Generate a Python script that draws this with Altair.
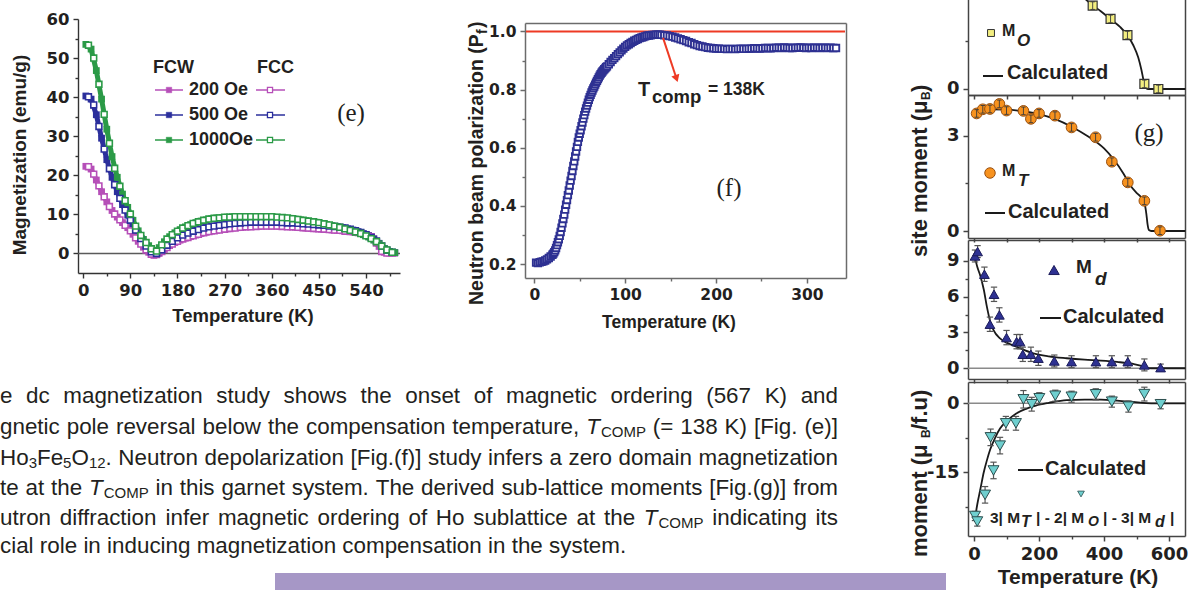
import altair as alt
import pandas as pd

SANS = "Liberation Sans"
DEJA = "DejaVu Sans"
SERIF = "Liberation Serif"
INK = "#231f20"

# ---------------- panel (e): dc magnetization ----------------
E_SERIES = ["200 Oe", "500 Oe", "1000Oe"]
E_COLORS = ["#b64fb8", "#2b2f9c", "#2b9a47"]
E_T_FCW = [5, 15, 25, 35, 45, 55, 65, 75, 85, 95, 105, 115, 125, 135, 145, 155, 165, 175, 185, 195,
           205, 215, 225, 235, 245, 255, 265, 275, 285, 295, 305, 315, 325, 335, 345, 355, 365, 375, 385, 395,
           405, 415, 425, 435, 445, 455, 465, 475, 485, 495, 505, 515, 525, 535, 545, 555, 565, 575, 585, 595]
FCW_200 = [22.3, 21.6, 18.8, 15.8, 13.2, 11.0, 9.3, 7.9, 6.6, 4.9, 3.1, 1.6, 0.3, -0.5, 0.0, 1.0, 2.0, 2.8, 3.4, 3.9,
           4.3, 4.7, 5.1, 5.4, 5.7, 5.9, 6.1, 6.3, 6.5, 6.6, 6.7, 6.8, 6.9, 6.9, 7.0, 7.0, 7.0, 6.9, 6.9, 6.8,
           6.7, 6.6, 6.5, 6.4, 6.3, 6.2, 6.1, 6.0, 5.9, 5.8, 5.7, 5.5, 5.3, 5.0, 4.6, 3.8, 1.8, 0.3, 0.1, 0.1]
FCW_500 = [40.3, 39.5, 35.5, 29.5, 24.0, 19.5, 15.8, 12.5, 9.8, 7.2, 4.9, 2.8, 1.0, 0.1, 0.4, 1.6, 2.7, 3.6, 4.4, 5.0,
           5.5, 5.9, 6.3, 6.6, 6.9, 7.1, 7.3, 7.5, 7.7, 7.8, 7.9, 8.0, 8.0, 8.0, 8.0, 8.0, 8.0, 7.9, 7.9, 7.8,
           7.7, 7.6, 7.5, 7.4, 7.3, 7.2, 7.1, 7.0, 6.8, 6.6, 6.3, 6.0, 5.6, 5.1, 4.5, 3.7, 2.6, 1.3, 0.5, 0.2]
FCW_1000 = [53.5, 52.3, 46.8, 39.5, 31.8, 24.8, 19.5, 15.2, 11.8, 8.5, 5.8, 3.6, 2.0, 0.6, 1.5, 3.0, 4.3, 5.3, 6.1, 6.8,
            7.4, 7.9, 8.3, 8.6, 8.9, 9.1, 9.2, 9.3, 9.4, 9.4, 9.4, 9.4, 9.4, 9.4, 9.4, 9.4, 9.3, 9.2, 9.1, 9.0,
            8.8, 8.6, 8.4, 8.2, 8.0, 7.7, 7.4, 7.1, 6.8, 6.5, 6.1, 5.7, 5.3, 4.8, 4.2, 3.4, 2.5, 1.3, 0.5, 0.2]
E_T_FCC = [10, 20, 30, 40, 50, 60, 70, 80, 90, 100, 110, 120, 130, 140, 150, 160, 170, 180, 190, 200,
           210, 220, 230, 240, 250, 260, 270, 280, 290, 300, 310, 320, 330, 340, 350, 360, 370, 380, 390, 400,
           410, 420, 430, 440, 450, 460, 470, 480, 490, 500, 510, 520, 530, 540, 550, 560, 570, 580, 590]
FCC_200 = [22.2, 20.3, 17.3, 14.5, 12.0, 10.1, 8.6, 7.2, 5.8, 4.0, 2.4, 0.9, -0.2, -0.3, 0.5, 1.5, 2.4, 3.1, 3.7, 4.1,
           4.5, 4.9, 5.3, 5.6, 5.8, 6.0, 6.2, 6.4, 6.5, 6.7, 6.8, 6.8, 6.9, 7.0, 7.0, 7.0, 7.0, 6.9, 6.8, 6.8,
           6.7, 6.6, 6.5, 6.4, 6.3, 6.2, 6.1, 6.0, 5.9, 5.7, 5.6, 5.4, 5.2, 4.8, 4.3, 2.7, 0.5, 0.1, 0.1]
FCC_500 = [40.1, 38.0, 32.5, 26.7, 21.7, 17.6, 14.1, 11.1, 8.5, 6.0, 3.8, 1.9, 0.4, 0.0, 0.9, 2.1, 3.1, 4.0, 4.7, 5.2,
           5.7, 6.1, 6.5, 6.8, 7.0, 7.2, 7.4, 7.6, 7.7, 7.8, 7.9, 8.0, 8.0, 8.0, 8.0, 8.0, 8.0, 7.9, 7.8, 7.8,
           7.7, 7.6, 7.5, 7.4, 7.3, 7.2, 7.0, 6.9, 6.7, 6.5, 6.2, 5.8, 5.4, 4.8, 4.1, 3.2, 1.9, 0.8, 0.3]
FCC_1000 = [53.3, 50.0, 43.3, 35.6, 28.2, 21.8, 17.2, 13.5, 10.1, 7.0, 4.6, 2.8, 1.2, 0.6, 2.2, 3.7, 4.8, 5.7, 6.5, 7.1,
            7.7, 8.1, 8.5, 8.8, 9.0, 9.1, 9.3, 9.3, 9.4, 9.4, 9.4, 9.4, 9.4, 9.4, 9.4, 9.4, 9.3, 9.2, 9.1, 8.9,
            8.7, 8.5, 8.3, 8.1, 7.9, 7.6, 7.3, 7.0, 6.7, 6.3, 5.9, 5.5, 5.1, 4.5, 3.8, 3.0, 1.9, 0.9, 0.3]
E_XTICKS = [0, 90, 180, 270, 360, 450, 540]
E_YTICKS = [0, 10, 20, 30, 40, 50, 60]

# ---------------- panel (f): neutron depolarization ----------------
F_T = [2, 4, 6, 8, 10, 12, 14, 16, 18, 20,
       21, 22, 23, 24, 25, 26, 27, 28, 29, 30, 31, 32, 33, 34, 35, 36, 37, 38, 39, 40,
       41, 42, 43, 44, 45, 46, 47, 48, 49, 50, 51, 52, 53, 54, 55, 56, 57, 58, 59, 60,
       61, 62, 63, 64, 65, 66, 67, 68, 69, 70, 71, 72, 73, 74, 75, 76, 77, 78, 79, 80,
       82, 84, 86, 88, 90, 92, 94, 96, 98, 100, 102, 104, 106, 108, 110, 112, 114, 116, 118, 120,
       122, 124, 126, 128, 130, 132, 134, 136, 138, 140,
       143, 146, 149, 152, 155, 158, 161, 164, 167, 170, 173, 176, 179, 182, 185, 188, 191, 194, 197, 200,
       203, 206, 209, 212, 215, 218, 221, 224, 227, 230, 233, 236, 239, 242, 245, 248, 251, 254, 257, 260,
       263, 266, 269, 272, 275, 278, 281, 284, 287, 290, 293, 296, 299, 302, 305, 308, 311, 314, 317, 320,
       323, 326, 329, 332]
F_P = [0.205, 0.203, 0.206, 0.208, 0.209, 0.212, 0.216, 0.221, 0.226, 0.232,
       0.236, 0.241, 0.247, 0.255, 0.265, 0.275, 0.285, 0.297, 0.310, 0.325, 0.340, 0.355, 0.370, 0.387, 0.404,
       0.420, 0.437, 0.453, 0.470, 0.487,
       0.503, 0.520, 0.537, 0.553, 0.570, 0.587, 0.603, 0.620, 0.635, 0.648, 0.660, 0.674, 0.687, 0.700, 0.712,
       0.724, 0.735, 0.745, 0.755, 0.765,
       0.774, 0.782, 0.790, 0.797, 0.804, 0.810, 0.817, 0.824, 0.830, 0.836, 0.842, 0.848, 0.853, 0.858, 0.862,
       0.866, 0.870, 0.873, 0.877, 0.880,
       0.887, 0.895, 0.902, 0.908, 0.915, 0.922, 0.928, 0.935, 0.941, 0.947, 0.952, 0.956, 0.960, 0.964, 0.968,
       0.971, 0.974, 0.977, 0.979, 0.981,
       0.983, 0.985, 0.986, 0.987, 0.988, 0.988, 0.989, 0.989, 0.989, 0.988,
       0.987, 0.986, 0.984, 0.982, 0.979, 0.976, 0.973, 0.970, 0.967, 0.963, 0.960, 0.956, 0.953, 0.950, 0.948,
       0.946, 0.944, 0.943, 0.942, 0.941,
       0.941, 0.940, 0.940, 0.939, 0.940, 0.940, 0.939, 0.940, 0.941, 0.940, 0.940, 0.941, 0.941, 0.942, 0.942,
       0.941, 0.942, 0.943, 0.943, 0.942,
       0.943, 0.944, 0.944, 0.943, 0.945, 0.944, 0.943, 0.943, 0.944, 0.944, 0.945, 0.944, 0.943, 0.944, 0.943,
       0.944, 0.944, 0.943, 0.944, 0.944,
       0.943, 0.944, 0.943, 0.943]
F_XTICKS = [0, 100, 200, 300]
F_YTICKS = [0.2, 0.4, 0.6, 0.8, 1.0]
F_TCOMP = [138]
F_ARROW = {"T1": [141.7], "P1": [0.978], "T2": [156.5], "P2": [0.838]}

# ---------------- panel (g): sub-lattice moments ----------------
GO_T = [365, 420, 472, 524, 567]
GO_M = [2.63, 2.21, 1.70, 0.16, 0.0]
GO_ERR = [0.12, 0.12, 0.12, 0.12, 0.12]
GO_CALC_T = [300, 330, 360, 390, 420, 450, 470, 490, 505, 515, 522, 528, 535, 560, 600, 650]
GO_CALC = [3.2, 2.95, 2.68, 2.45, 2.2, 1.95, 1.72, 1.38, 1.0, 0.6, 0.25, 0.05, 0.0, 0.0, 0.0, 0.0]

GT_T = [8, 27, 49, 78, 100, 152, 175, 200, 249, 300, 374, 424, 473, 524, 572]
GT_M = [3.70, 3.83, 3.84, 4.0, 3.79, 3.78, 3.53, 3.70, 3.63, 3.26, 2.95, 2.18, 1.53, 0.95, 0.01]
GT_ERR = [0.12, 0.12, 0.12, 0.12, 0.12, 0.12, 0.12, 0.12, 0.12, 0.12, 0.12, 0.12, 0.12, 0.12, 0.12]
GT_CALC_T = [0, 50, 100, 150, 200, 250, 300, 350, 400, 430, 460, 480, 500, 515, 525, 530, 534, 538, 545, 600, 650]
GT_CALC = [3.82, 3.83, 3.82, 3.77, 3.68, 3.52, 3.28, 2.98, 2.6, 2.25, 1.8, 1.45, 1.2, 1.05, 0.85, 0.55, 0.2, 0.03, 0.0, 0.0, 0.0]

GD_T = [3, 11, 32, 49, 61.5, 78, 100, 131, 141.5, 150, 175, 198, 247, 300, 375, 424, 473, 524, 574]
GD_M = [9.41, 9.78, 7.88, 3.69, 6.2, 4.47, 2.57, 2.23, 2.23, 1.17, 1.17, 0.84, 0.61, 0.55, 0.55, 0.55, 0.55, 0.28, 0.05]
GD_ERR = [0.5, 0.5, 0.6, 0.6, 0.6, 0.6, 0.6, 0.6, 0.6, 0.6, 0.6, 0.6, 0.5, 0.5, 0.5, 0.5, 0.5, 0.5, 0.3]
GD_CALC_T = [2, 10, 20, 30, 40, 50, 60, 80, 100, 130, 180, 230, 285, 340, 390, 440, 490, 515, 530, 545, 600, 650]
GD_CALC = [9.4, 8.5, 7.7, 6.6, 5.1, 3.9, 3.2, 2.5, 2.15, 1.82, 1.27, 1.0, 0.84, 0.72, 0.64, 0.53, 0.36, 0.2, 0.05, 0.0, 0.0, 0.0]

GN_T = [3, 10, 34, 51, 60, 80, 98, 129, 152, 177.5, 201, 250, 300, 374.5, 424, 475, 524, 574]
GN_M = [-24.5, -25.7, -19.9, -7.4, -14.6, -9.2, -4.35, -4.35, 0.87, -0.2, 1.1, 1.65, 1.43, 1.96, 0.36, -0.72, 2.0, -0.2]
GN_ERR = [1.0, 1.0, 1.8, 1.8, 1.8, 1.8, 1.5, 1.5, 1.9, 1.5, 1.2, 1.2, 1.2, 1.2, 1.2, 1.2, 1.5, 1.0]
GN_CALC_T = [2, 10, 20, 30, 40, 50, 65, 80, 100, 130, 160, 190, 230, 285, 340, 390, 440, 490, 530, 560, 650]
GN_CALC = [-25.5, -22.0, -18.5, -15.0, -12.3, -10.0, -7.5, -5.5, -3.9, -2.2, -1.2, -0.5, 0.1, 0.7, 0.8, 0.8, 0.6, 0.3, 0.05, 0.0, 0.0]

G_XTICKS = [0, 200, 400, 600]
G_XMINOR = [100, 300, 500]
G_XALL = [0, 100, 200, 300, 400, 500, 600]

# ---------------- text block ({TC} = italic T with subscript COMP, {HFO} = Ho3Fe5O12) ----------------
PARA = [
    "e dc magnetization study shows the onset of magnetic ordering (567 K) and",
    "gnetic pole reversal below the compensation temperature, {TC} (= 138 K) [Fig. (e)]",
    "{HFO} Neutron depolarization [Fig.(f)] study infers a zero domain magnetization",
    "te at the {TC} in this garnet system. The derived sub-lattice moments [Fig.(g)] from",
    "utron diffraction infer magnetic ordering of Ho sublattice at the {TC} indicating its",
    "cial role in inducing magnetization compensation in the system.",
]

# ---------------- geometry (pixel ranges of each plot frame) ----------------
E_X = ([-10, 605], [78, 400])
E_Y = ([-5, 60], [273, 19])
F_X = ([-10.2, 343], [525, 846])
F_Y = ([0.152, 1.029], [278, 23])
G_X = ([-18.5, 649], [968, 1185])
G1_Y = ([-0.19, 3.0], [95, -6.1])
G2_Y = ([-0.22, 4.28], [238, 95])
G3_Y = ([-0.9, 10.75], [379, 240])
G4_Y = ([-28.85, 4.63], [536, 382])
W, H = 1192, 590
PARA_Y = [396, 427, 458, 488, 518, 546]
PARA_W = 838
PF = 22.4
SUB = 15

# Arial / Liberation Sans regular advance widths (per 1000 em) for layout of justified text
AW = {" ": 278, "(": 333, ")": 333, ",": 278, "-": 333, ".": 278, "/": 278, "=": 584, "[": 278, "]": 278,
      "A": 667, "B": 667, "C": 722, "D": 722, "E": 667, "F": 611, "G": 778, "H": 722, "I": 278, "J": 500,
      "K": 667, "L": 556, "M": 833, "N": 722, "O": 778, "P": 667, "Q": 778, "R": 722, "S": 667, "T": 611,
      "U": 722, "V": 667, "W": 944, "X": 667, "Y": 667, "Z": 611,
      "a": 556, "b": 556, "c": 500, "d": 556, "e": 556, "f": 278, "g": 556, "h": 556, "i": 222, "j": 222,
      "k": 500, "l": 222, "m": 833, "n": 556, "o": 556, "p": 556, "q": 556, "r": 333, "s": 500, "t": 278,
      "u": 556, "v": 500, "w": 722, "x": 500, "y": 500, "z": 500}

SPECIAL = {
    "{TC}": [("T", PF, 0, "italic"), ("COMP", SUB, 5, "normal")],
    "{HFO}": [("Ho", PF, 0, "normal"), ("3", SUB, 5, "normal"), ("Fe", PF, 0, "normal"), ("5", SUB, 5, "normal"),
              ("O", PF, 0, "normal"), ("12", SUB, 5, "normal"), (".", PF, 0, "normal")],
}


def wlen(s, size):
    return sum(AW.get(c, 556) for c in s) * size / 1000


def S(dom, rng):
    return alt.Scale(domain=dom, range=rng, nice=False, zero=False)


def AX(orient, offset, values, labels=True, ticks=True, domain=True, size=5, fs=16,
       pad=4, color="#333333", width=1.4, font=DEJA, expr=None):
    kw = dict(orient=orient, offset=offset, values=values, labels=labels, ticks=ticks,
              domain=domain, tickSize=size, tickColor=color, tickWidth=width,
              domainColor=color, domainWidth=width, labelFont=font, labelFontSize=fs,
              labelFontWeight="bold", labelColor=INK, labelPadding=pad, labelFlush=False,
              labelOverlap=False, labelBound=False, grid=False, title=None)
    if expr:
        kw["labelExpr"] = expr
    return alt.Axis(**kw)


def base(df, X, Y, xf, yf, xaxis=None, yaxis=None):
    return alt.Chart(df).encode(
        x=alt.X(f"{xf}:Q", scale=S(*X), axis=xaxis),
        y=alt.Y(f"{yf}:Q", scale=S(*Y), axis=yaxis),
    )


BLANK = alt.Data(values=[{}])


def txt(s, x, y, size, font=SANS, weight="bold", style="normal", align="left",
        angle=None, color=INK):
    kw = dict(text=s, font=font, fontSize=size, fontWeight=weight, fontStyle=style,
              align=align, baseline="middle", color=color)
    if angle is not None:
        kw["angle"] = angle
    return alt.Chart(BLANK).mark_text(**kw).encode(x=alt.value(x), y=alt.value(y))


def seg(x1, x2, y, color, width=2.0):
    return alt.Chart(BLANK).mark_rule(color=color, strokeWidth=width).encode(
        x=alt.value(x1), x2=alt.value(x2), y=alt.value(y))


def sym(x, y, shape, size, fill, stroke, sw=1.0):
    return alt.Chart(BLANK).mark_point(shape=shape, size=size, fill=fill, stroke=stroke,
                                       strokeWidth=sw, fillOpacity=1, opacity=1).encode(
        x=alt.value(x), y=alt.value(y))


def errbars(df, Y, color, width, cap):
    d = df.assign(lo=df["M"] - df["E"], hi=df["M"] + df["E"])
    out = [alt.Chart(d).mark_rule(color=color, strokeWidth=width).encode(
        x=alt.X("T:Q", scale=S(*G_X), axis=None), y=alt.Y("lo:Q", scale=S(*Y), axis=None), y2="hi:Q")]
    for f in ("lo", "hi"):
        out.append(alt.Chart(d).mark_point(shape="stroke", size=cap, color=color, strokeWidth=width,
                                           opacity=1).encode(
            x=alt.X("T:Q", scale=S(*G_X), axis=None), y=alt.Y(f"{f}:Q", scale=S(*Y), axis=None)))
    return out


layers = []

# ================= panel (e) =================
fcw = pd.concat([
    pd.DataFrame({"T": E_T_FCW, "M": vals, "series": name})
    for name, vals in zip(E_SERIES, [FCW_200, FCW_500, FCW_1000])
])
fcc = pd.concat([
    pd.DataFrame({"T": E_T_FCC, "M": vals, "series": name})
    for name, vals in zip(E_SERIES, [FCC_200, FCC_500, FCC_1000])
])
ecol = alt.Color("series:N", scale=alt.Scale(domain=E_SERIES, range=E_COLORS), legend=None)

layers.append(base(fcw, E_X, E_Y, "T", "M",
                   xaxis=AX("bottom", 273 - H, E_XTICKS, fs=16.5, pad=4),
                   yaxis=AX("left", -78, E_YTICKS, fs=16.5, pad=4)).mark_point(opacity=0))
layers.append(base(fcw, E_X, E_Y, "T", "M",
                   xaxis=AX("bottom", 273 - H, [45, 135, 225, 315, 405, 495, 585], labels=False, domain=False, size=3),
                   yaxis=AX("left", -78, [5, 15, 25, 35, 45, 55], labels=False, domain=False, size=3)).mark_point(opacity=0))
layers.append(alt.Chart(pd.DataFrame({"M": [0]})).mark_rule(color="#5a5a5a", strokeWidth=1.5).encode(
    y=alt.Y("M:Q", scale=S(*E_Y), axis=None), x=alt.value(78), x2=alt.value(400)))
layers.append(base(fcw, E_X, E_Y, "T", "M").mark_line(strokeWidth=5).encode(color=ecol, detail="series:N"))
layers.append(base(fcw, E_X, E_Y, "T", "M").mark_point(shape="square", filled=True, size=46, opacity=1).encode(color=ecol))
layers.append(base(fcc, E_X, E_Y, "T", "M").mark_point(shape="square", fill="white", fillOpacity=1,
                                                        strokeWidth=1.6, size=34, opacity=1).encode(color=ecol))

# legend of (e)
layers.append(txt("FCW", 153, 68, 18))
layers.append(txt("FCC", 257, 68, 18))
for i, (name, col) in enumerate(zip(E_SERIES, E_COLORS)):
    yy = [90, 115, 140][i]
    layers.append(seg(155, 183, yy, col, 1.5))
    layers.append(sym(169, yy, "square", 30, col, col, 0.5))
    layers.append(txt(name if i != 1 else " " + name, 189, yy, 18))
    layers.append(seg(256, 285, yy, col, 1.5))
    layers.append(sym(270, yy, "square", 26, "white", col, 1.3))
layers.append(txt("(e)", 351, 113, 25, font=SERIF, weight="normal", align="center"))
layers.append(txt("Temperature (K)", 243, 316, 18.5, align="center"))
layers.append(txt("Magnetization (emu/g)", 20, 155, 19, align="center", angle=270))

# ================= panel (f) =================
fdf = pd.DataFrame({"T": F_T, "P": F_P})
fcol = "#6b6b6b"
layers.append(base(fdf, F_X, F_Y, "T", "P",
                   xaxis=AX("bottom", 278 - H, F_XTICKS, fs=15.5, pad=4, color=fcol, width=1.5),
                   yaxis=AX("left", -525, F_YTICKS, fs=15.5, pad=4, color=fcol, width=1.5,
                            expr="format(datum.value, '.1f')")).mark_point(opacity=0))
layers.append(base(fdf, F_X, F_Y, "T", "P",
                   xaxis=AX("bottom", 278 - H, [50, 150, 250], labels=False, domain=False, size=3, color=fcol),
                   yaxis=AX("left", -525, [0.3, 0.5, 0.7, 0.9], labels=False, domain=False, size=3, color=fcol)).mark_point(opacity=0))
layers.append(base(fdf, F_X, F_Y, "T", "P",
                   xaxis=AX("top", -23, [0], labels=False, ticks=False, color=fcol, width=1.5),
                   yaxis=AX("right", 846 - W, [0.2], labels=False, ticks=False, color=fcol, width=1.5)).mark_point(opacity=0))
layers.append(alt.Chart(pd.DataFrame({"P": [1.0]})).mark_rule(color="#ee3a24", strokeWidth=2).encode(
    y=alt.Y("P:Q", scale=S(*F_Y), axis=None), x=alt.value(526), x2=alt.value(845)))
layers.append(base(fdf, F_X, F_Y, "T", "P").mark_point(shape="square", fill="white", fillOpacity=1,
                                                        color="#2e3192", strokeWidth=1.9, size=42, opacity=1))
arrow = pd.DataFrame(F_ARROW)
layers.append(alt.Chart(arrow).mark_rule(color="#ee3a24", strokeWidth=2).encode(
    x=alt.X("T1:Q", scale=S(*F_X), axis=None), y=alt.Y("P1:Q", scale=S(*F_Y), axis=None),
    x2="T2:Q", y2="P2:Q"))
layers.append(alt.Chart(arrow).mark_point(shape="triangle-up", angle=161.6, size=70, filled=True,
                                          color="#ee3a24", opacity=1).encode(
    x=alt.X("T2:Q", scale=S(*F_X), axis=None), y=alt.Y("P2:Q", scale=S(*F_Y), axis=None)))
layers.append(txt("T", 638, 90, 20))
layers.append(txt("comp", 652, 97, 18.5))
layers.append(txt(f"= {F_TCOMP[0]}K", 708, 90, 17.5))
layers.append(txt("(f)", 729, 188, 25, font=SERIF, weight="normal", align="center"))
layers.append(txt("Temperature (K)", 669, 323, 17.5, align="center"))
layers.append(txt("Neutron beam polarization (P", 477, 305, 19.5, align="left", angle=270))
layers.append(txt("f", 483, 34, 14, align="left", angle=270))
layers.append(txt(")", 477, 28, 19.5, align="left", angle=270))

# ================= panel (g) =================
gcol = "#444444"
panels = [
    (pd.DataFrame({"T": GO_T, "M": GO_M, "E": GO_ERR}), pd.DataFrame({"T": GO_CALC_T, "M": GO_CALC}), G1_Y, [0, 3], [1.5], None, 95),
    (pd.DataFrame({"T": GT_T, "M": GT_M, "E": GT_ERR}), pd.DataFrame({"T": GT_CALC_T, "M": GT_CALC}), G2_Y, [0, 3], [1.5], 95, 238),
    (pd.DataFrame({"T": GD_T, "M": GD_M, "E": GD_ERR}), pd.DataFrame({"T": GD_CALC_T, "M": GD_CALC}), G3_Y, [0, 3, 6, 9], [1.5, 4.5, 7.5], 240, 379),
    (pd.DataFrame({"T": GN_T, "M": GN_M, "E": GN_ERR}), pd.DataFrame({"T": GN_CALC_T, "M": GN_CALC}), G4_Y, [-15, 0], [-22.5, -7.5], 382, 536),
]
styles = [
    dict(shape="square", size=80, fill="#f3ee80", stroke="#333333", sw=1.2),
    dict(shape="circle", size=115, fill="#f7921e", stroke="#9a5010", sw=1.0),
    dict(shape="triangle-up", size=95, fill="#2e3192", stroke="#1c1c5a", sw=1.0),
    dict(shape="triangle-down", size=120, fill="#6fcfcf", stroke="#2d4f4f", sw=1.0),
]
for k, (pts, calc, Y, yt, ym, top, bot) in enumerate(panels):
    last = k == 3
    layers.append(base(pts, G_X, Y, "T", "M",
                       xaxis=AX("bottom", bot - H, G_XTICKS if last else G_XALL, labels=last, fs=18, pad=4,
                                size=5 if last else 4, color=gcol, width=1.5),
                       yaxis=AX("left", -968, yt, fs=18, pad=4, color=gcol, width=1.5,
                                expr="'' + datum.value")).mark_point(opacity=0))
    layers.append(base(pts, G_X, Y, "T", "M",
                       xaxis=AX("bottom", bot - H, G_XMINOR, labels=False, domain=False, size=3, color=gcol) if last else None,
                       yaxis=AX("left", -968, ym, labels=False, domain=False, size=3, color=gcol)).mark_point(opacity=0))
    layers.append(base(pts, G_X, Y, "T", "M",
                       xaxis=AX("top", -top, [0], labels=False, ticks=False, color=gcol, width=1.5) if top is not None else None,
                       yaxis=AX("right", 1185 - W, [0], labels=False, ticks=False, color=gcol, width=1.5)).mark_point(opacity=0))
    if k >= 2:
        layers.append(alt.Chart(pd.DataFrame({"M": [0]})).mark_rule(color="#8a8a8a", strokeWidth=1.5).encode(
            y=alt.Y("M:Q", scale=S(*Y), axis=None), x=alt.value(968), x2=alt.value(1185)))
    layers.append(base(calc, G_X, Y, "T", "M").mark_line(color="#1a1a1a", strokeWidth=1.8, interpolate="monotone"))
    if k >= 2:
        layers.extend(errbars(pts, Y, "#555555", 1.2, 40))
    st = styles[k]
    layers.append(base(pts, G_X, Y, "T", "M").mark_point(shape=st["shape"], size=st["size"], fill=st["fill"],
                                                          stroke=st["stroke"], strokeWidth=st["sw"],
                                                          fillOpacity=1, opacity=1))
    if k < 2:
        layers.extend(errbars(pts, Y, "#3a3a3a", 0.9, 20))

# legends of (g)
layers.append(sym(991, 33, "square", 48, "#f3ee80", "#333333", 1.0))
layers.append(txt("M", 1002, 31, 16))
layers.append(txt("O", 1017, 41, 17, style="italic"))
layers.append(seg(983, 1003, 76, "#1a1a1a", 2))
layers.append(txt("Calculated", 1007, 73, 20))
layers.append(sym(990, 173, "circle", 110, "#f7921e", "#9a5010", 1.0))
layers.append(txt("M", 1002, 171, 16))
layers.append(txt("T", 1018, 181, 17, style="italic"))
layers.append(seg(985, 1005, 213, "#1a1a1a", 2))
layers.append(txt("Calculated", 1008, 212, 20))
layers.append(txt("(g)", 1149, 133, 25, font=SERIF, weight="normal", align="center"))
layers.append(sym(1054, 270, "triangle-up", 110, "#2e3192", "#1c1c5a", 1.0))
layers.append(txt("M", 1076, 267, 19))
layers.append(txt("d", 1095, 279, 19, style="italic"))
layers.append(seg(1040, 1061, 318, "#1a1a1a", 2))
layers.append(txt("Calculated", 1063, 317, 20))
layers.append(seg(1018, 1043, 470, "#1a1a1a", 2))
layers.append(txt("Calculated", 1045, 469, 20))
layers.append(sym(1081, 494, "triangle-down", 45, "#6fcfcf", "#2d4f4f", 0.8))
for s, xx, dy, fs, sty in [("3| M", 990, 0, 15.5, "normal"), ("T", 1021, 4, 16, "italic"),
                           ("| - 2| M", 1036, 0, 15.5, "normal"), ("O", 1088, 4, 14, "italic"),
                           ("| - 3| M", 1103, 0, 15.5, "normal"), ("d", 1155, 4, 16, "italic"),
                           ("|", 1170, 0, 15.5, "normal")]:
    layers.append(txt(s, xx, 518 + dy, fs, style=sty))
layers.append(txt("Temperature (K)", 1078, 578, 21, align="center"))
layers.append(txt("site moment (\u03bc", 920, 257, 22, align="left", angle=270))
layers.append(txt("B", 926, 100, 12, align="left", angle=270))
layers.append(txt(")", 920, 92, 22, align="left", angle=270))
layers.append(txt("moment  (\u03bc", 920, 557, 22, align="left", angle=270))
layers.append(txt("B", 926, 438, 12, align="left", angle=270))
layers.append(txt("/f.u)", 920, 430, 22, align="left", angle=270))

# ================= text block (justified layout) =================
def pieces(word):
    return SPECIAL.get(word, [(word, PF, 0, "normal")])


def word_width(word):
    return sum(wlen(p[0], p[1]) + (1 if p[3] == "italic" else 0) for p in pieces(word))


groups = {}
for li, (line, yy) in enumerate(zip(PARA, PARA_Y)):
    words = line.split()
    widths = [word_width(w) for w in words]
    if li == len(PARA) - 1:
        gap = wlen(" ", PF)
    else:
        gap = (PARA_W - sum(widths)) / (len(words) - 1)
    xx = 0.0
    for w, wd in zip(words, widths):
        px = xx
        for s, size, dy, style in pieces(w):
            groups.setdefault((size, style), []).append({"s": s, "x": px, "y": yy + dy})
            px += wlen(s, size) + (1 if style == "italic" else 0)
        xx += wd + gap

for (size, style), rows in groups.items():
    layers.append(alt.Chart(pd.DataFrame(rows)).mark_text(
        align="left", baseline="middle", font=SANS, fontSize=size, fontStyle=style, color=INK).encode(
        x=alt.X("x:Q", scale=None, axis=None), y=alt.Y("y:Q", scale=None, axis=None), text="s:N"))

layers.append(alt.Chart(BLANK).mark_rect(color="#a697c6").encode(
    x=alt.value(275), x2=alt.value(946), y=alt.value(573), y2=alt.value(590)))

chart = alt.layer(*layers).resolve_scale(x="independent", y="independent").properties(
    width=W, height=H, autosize=alt.AutoSizeParams(type="none"), padding=0,
    background="white",
).configure_view(stroke=None)

chart.save("out.html", embed_options={"renderer": "svg", "actions": False})
